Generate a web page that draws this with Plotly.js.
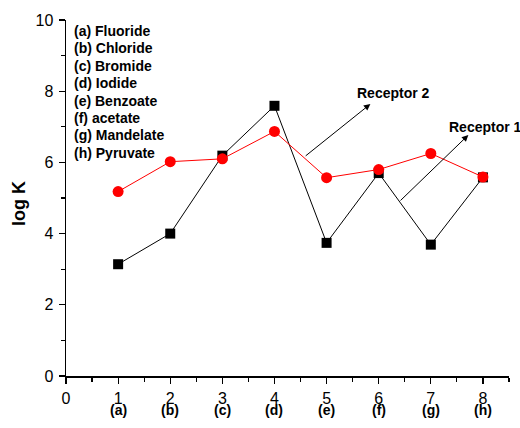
<!DOCTYPE html>
<html>
<head>
<meta charset="utf-8">
<script src="https://cdn.plot.ly/plotly-3.0.1.min.js"></script>
<style>html,body{margin:0;padding:0;background:#fff}#chart{width:520px;height:428px}</style>
</head>
<body>
<div id="chart"></div>
<script>
const xVals = [1, 2, 3, 4, 5, 6, 7, 8];
const categories = ['(a)', '(b)', '(c)', '(d)', '(e)', '(f)', '(g)', '(h)'];
const anionNames = ['(a) Fluoride', '(b) Chloride', '(c) Bromide', '(d) Iodide', '(e) Benzoate', '(f) acetate', '(g) Mandelate', '(h) Pyruvate'];
const receptor1 = [3.14, 4.0, 6.19, 7.59, 3.74, 5.7, 3.69, 5.58];
const receptor2 = [5.18, 6.02, 6.1, 6.87, 5.57, 5.8, 6.25, 5.59];
const tickVals = [0, 1, 2, 3, 4, 5, 6, 7, 8];

const FONT = 'Liberation Sans, Arial, sans-serif';

const traces = [
  {x: xVals, y: receptor1, mode: 'lines+markers', name: 'Receptor 1',
   line: {color: '#000000', width: 1},
   marker: {symbol: 'square', size: 10, color: '#000000'}},
  {x: xVals, y: receptor2, mode: 'lines+markers', name: 'Receptor 2',
   line: {color: '#ff0000', width: 1},
   marker: {symbol: 'circle', size: 11, color: '#ff0000'}}
];

const annotations = [];
categories.forEach((c, i) => {
  annotations.push({x: xVals[i], y: 0, xref: 'x', yref: 'paper', yshift: -34,
    text: '<b>' + c + '</b>', showarrow: false, yanchor: 'middle',
    font: {family: FONT, size: 14, color: '#000'}});
});
anionNames.forEach((s, i) => {
  annotations.push({x: 0.0135, y: 0, xref: 'paper', yref: 'paper', yshift: 345 - i * 17.4,
    xanchor: 'left', yanchor: 'middle', align: 'left', showarrow: false,
    text: '<b>' + s + '</b>', font: {family: FONT, size: 14, color: '#000'}});
});
annotations.push({x: -0.106, y: 0.483, xref: 'paper', yref: 'paper', textangle: -90,
  xanchor: 'center', yanchor: 'middle',
  text: '<b>log K</b>', showarrow: false, font: {family: FONT, size: 18, color: '#000'}});
// arrows
annotations.push({x: 5.84, y: 7.64, ax: 4.57, ay: 6.15, xref: 'x', yref: 'y', axref: 'x', ayref: 'y',
  text: '', showarrow: true, arrowhead: 2, arrowsize: 1.3, arrowwidth: 1, arrowcolor: '#000'});
annotations.push({x: 7.72, y: 6.77, ax: 6.39, ay: 4.89, xref: 'x', yref: 'y', axref: 'x', ayref: 'y',
  text: '', showarrow: true, arrowhead: 2, arrowsize: 1.3, arrowwidth: 1, arrowcolor: '#000'});
annotations.push({x: 6.28, y: 7.95, xref: 'x', yref: 'y', text: '<b>Receptor 2</b>', showarrow: false,
  font: {family: FONT, size: 14, color: '#000'}});
annotations.push({x: 7.31, y: 6.99, xref: 'x', yref: 'y', xanchor: 'left', text: '<b>Receptor 1</b>', showarrow: false,
  font: {family: FONT, size: 14, color: '#000'}});

const layout = {
  width: 520, height: 428,
  margin: {l: 66, r: 11, t: 20, b: 52},
  paper_bgcolor: '#fff', plot_bgcolor: '#fff',
  showlegend: false,
  font: {family: FONT, color: '#000'},
  xaxis: {range: [0, 8.5], showgrid: false, zeroline: false, showline: true, linecolor: '#000', linewidth: 1.5,
    tickmode: 'array', tickvals: tickVals, ticks: 'outside', ticklen: 6, tickwidth: 1.2, tickcolor: '#000',
    ticklabelstandoff: 1,
    tickfont: {family: FONT, size: 16, color: '#000'},
    minor: {dtick: 0.5, tick0: 0, ticks: 'outside', ticklen: 4, tickwidth: 1.2, tickcolor: '#000', showgrid: false}},
  yaxis: {range: [0, 10], showgrid: false, zeroline: false, showline: true, linecolor: '#000', linewidth: 1.5,
    dtick: 2, ticks: 'outside', ticklen: 6, tickwidth: 1.2, tickcolor: '#000',
    ticklabelstandoff: 2,
    tickfont: {family: FONT, size: 16, color: '#000'},
    minor: {dtick: 1, ticks: 'outside', ticklen: 4, tickwidth: 1.2, tickcolor: '#000', showgrid: false}},
  annotations: annotations
};

Plotly.newPlot('chart', traces, layout, {displayModeBar: false, staticPlot: true});
</script>
</body>
</html>
